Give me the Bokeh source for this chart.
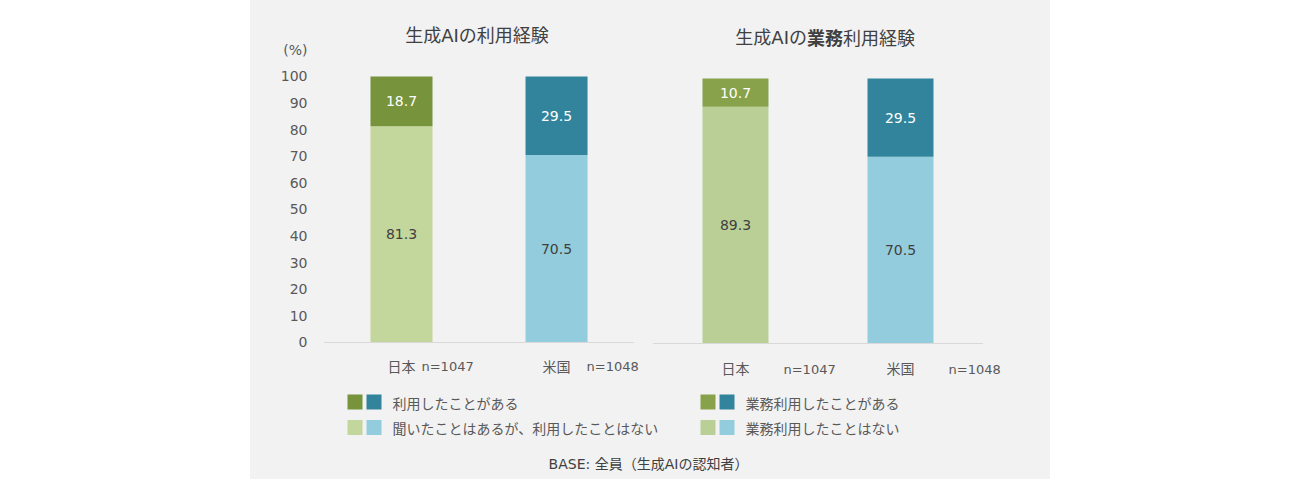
from bokeh.plotting import figure
from bokeh.models import Range1d, FixedTicker, ColumnDataSource, Spacer
from bokeh.layouts import row, column
from bokeh.core.properties import value
from bokeh.embed import file_html
from bokeh.resources import INLINE

# ---- data -------------------------------------------------------------
categories = ["日本", "米国"]
sample_sizes = [1047, 1048]

# 生成AIの利用経験 (%)
used = [18.7, 29.5]
heard_not_used = [81.3, 70.5]

# 生成AIの業務利用経験 (%)
work_used = [10.7, 29.5]
work_not_used = [89.3, 70.5]

y_ticks = list(range(0, 101, 10))
unit_tick = 110          # where the "(%)" unit sits on the value axis

legend_left = ["利用したことがある", "聞いたことはあるが、利用したことはない"]
legend_right = ["業務利用したことがある", "業務利用したことはない"]
base_note = "BASE: 全員（生成AIの認知者）"

# ---- styling ----------------------------------------------------------
BG = "#F2F2F2"
TEXT = "#595959"
DARK_TEXT = "#404040"
FONT = "DejaVu Sans, Noto Sans CJK JP"
JP_FONT = "Noto Sans CJK JP"

left_dark = ["#77933C", "#31849B"]
left_light = ["#C3D69B", "#93CDDD"]
right_dark = ["#87A24B", "#31849B"]
right_light = ["#B9CF96", "#93CDDD"]

BAR_WIDTH = 0.4
positions = list(range(len(categories)))


def base_figure(width, height, x_range, y_range, **kw):
    p = figure(width=width, height=height, x_range=x_range, y_range=y_range,
               output_backend="svg", toolbar_location=None,
               x_axis_location=None, **kw)
    p.background_fill_color = None
    p.border_fill_color = BG
    p.outline_line_color = None
    p.xgrid.visible = False
    p.ygrid.visible = False
    return p


def txt(p, x, y, text, dx=0, dy=0, align="center", size="14px", color=TEXT,
        font=FONT, style="normal"):
    p.text(x=[x], y=[y], text=[text], x_offset=dx, y_offset=dy,
           text_align=align, text_baseline="middle",
           text_font=value(font), text_font_size=size,
           text_color=color, text_font_style=style)


def stacked_bars(p, top_vals, bottom_vals, dark, light):
    src = ColumnDataSource(dict(
        x=positions,
        low=bottom_vals,
        high=[b + t for b, t in zip(bottom_vals, top_vals)],
        low_mid=[b / 2 for b in bottom_vals],
        high_mid=[b + t / 2 for b, t in zip(bottom_vals, top_vals)],
        low_txt=[f"{v:.1f}" for v in bottom_vals],
        high_txt=[f"{v:.1f}" for v in top_vals],
        dark=dark, light=light,
    ))
    p.vbar(x="x", bottom=0, top="low", width=BAR_WIDTH, source=src,
           fill_color="light", line_color=None)
    p.vbar(x="x", bottom="low", top="high", width=BAR_WIDTH, source=src,
           fill_color="dark", line_color=None)
    p.text(x="x", y="low_mid", text="low_txt", source=src,
           text_align="center", text_baseline="middle",
           text_font=value(FONT), text_font_size="14px", text_color=DARK_TEXT)
    p.text(x="x", y="high_mid", text="high_txt", source=src,
           text_align="center", text_baseline="middle",
           text_font=value(FONT), text_font_size="14px", text_color="#FFFFFF")
    # category baseline
    p.segment(x0=[positions[0] - 0.5], x1=[positions[-1] + 0.5], y0=[0], y1=[0],
              line_color="#D9D9D9", line_width=1)


# ---- left chart: 生成AIの利用経験 ----------------------------------------
p_left = base_figure(400, 385, Range1d(-0.503, 1.606), Range1d(-16.17, 128.57),
                     y_axis_location="left", min_border_left=73,
                     min_border_right=0, min_border_top=0, min_border_bottom=0)
ax = p_left.yaxis[0]
ax.ticker = FixedTicker(ticks=y_ticks + [unit_tick])
ax.major_label_overrides = {unit_tick: "(%)"}
ax.axis_line_color = None
ax.major_tick_line_color = None
ax.minor_tick_line_color = None
ax.major_tick_in = 0
ax.major_tick_out = 0
ax.major_label_standoff = 16
ax.major_label_text_font = FONT
ax.major_label_text_font_size = "14px"
ax.major_label_text_color = TEXT

stacked_bars(p_left, used, heard_not_used, left_dark, left_light)
txt(p_left, 0.5, 100, "生成AIの利用経験", dx=-2, dy=-41, size="18px", color=DARK_TEXT)
txt(p_left, positions[0], 0, categories[0], dx=0, dy=24, font=JP_FONT)
txt(p_left, positions[0], 0, f"n={sample_sizes[0]}", dx=20, dy=24, align="left", size="13px")
txt(p_left, positions[1], 0, categories[1], dx=0, dy=24, font=JP_FONT)
txt(p_left, positions[1], 0, f"n={sample_sizes[1]}", dx=30, dy=24, align="left", size="13px")

# ---- right chart: 生成AIの業務利用経験 -----------------------------------
p_right = base_figure(400, 385, Range1d(-0.515, 1.909), Range1d(-15.85, 129.43),
                      y_axis_location=None, min_border=0)
stacked_bars(p_right, work_used, work_not_used, right_dark, right_light)
txt(p_right, 0.5, 100, "生成AIの", dx=-11, dy=-41, align="right", size="18px", color=DARK_TEXT)
txt(p_right, 0.5, 100, "業務", dx=-11, dy=-41, align="left", size="18px",
    color=DARK_TEXT, font=JP_FONT, style="bold")
txt(p_right, 0.5, 100, "利用経験", dx=25, dy=-41, align="left", size="18px",
    color=DARK_TEXT, font=JP_FONT)
txt(p_right, positions[0], 0, categories[0], dx=0, dy=25, font=JP_FONT)
txt(p_right, positions[0], 0, f"n={sample_sizes[0]}", dx=48, dy=26, align="left", size="13px")
txt(p_right, positions[1], 0, categories[1], dx=0, dy=25, font=JP_FONT)
txt(p_right, positions[1], 0, f"n={sample_sizes[1]}", dx=48, dy=26, align="left", size="13px")

# ---- legend and base note -------------------------------------------
p_bottom = base_figure(800, 94, Range1d(0, 800), Range1d(94, 0),
                       y_axis_location=None, min_border=0)

sw = 15
for col_x, texts, darks, lights in ((97, legend_left, left_dark, left_light),
                                    (450, legend_right, right_dark, right_light)):
    for row_y, label_text, pair in ((16.5, texts[0], darks), (42, texts[1], lights)):
        p_bottom.rect(x=[col_x + sw / 2, col_x + 19 + sw / 2], y=[row_y, row_y],
                      width=sw, height=sw, fill_color=pair, line_color=None)
        txt(p_bottom, col_x + 45, row_y + 0.5, label_text, align="left", font=JP_FONT)

txt(p_bottom, 398, 78, base_note, color=DARK_TEXT)

panel = column(row(p_left, p_right, spacing=0), p_bottom, spacing=0,
               styles={"background-color": BG})
layout = row(Spacer(width=250, height=479), panel, Spacer(width=250, height=479),
             spacing=0)

open("out.html", "w").write(file_html(layout, INLINE))
